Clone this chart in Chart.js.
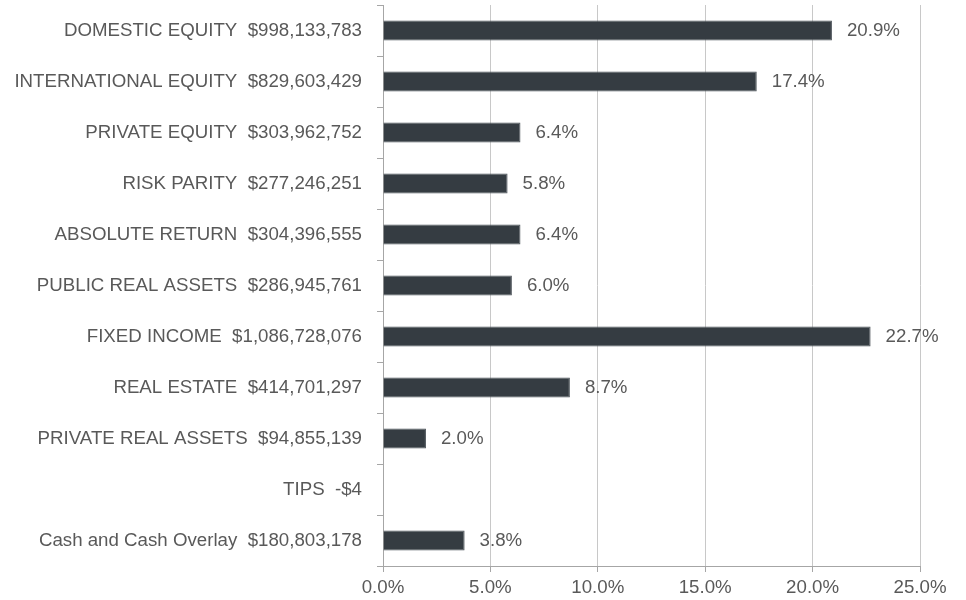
<!DOCTYPE html>
<html lang="en">
<head>
    <meta charset="UTF-8">
    <title>Asset allocation</title>
    <script src="https://cdn.jsdelivr.net/npm/chart.js"></script>
    <style>
        body {
            margin: 0;
            background: #fff;
        }
        #chart {
            display: block;
        }
    </style>
</head>
<body>

<canvas id="chart" width="966" height="600"></canvas>

<script>
    // Данные
    const categories = [
        'DOMESTIC EQUITY', 'INTERNATIONAL EQUITY', 'PRIVATE EQUITY', 'RISK PARITY',
        'ABSOLUTE RETURN', 'PUBLIC REAL ASSETS', 'FIXED INCOME', 'REAL ESTATE',
        'PRIVATE REAL ASSETS', 'TIPS', 'Cash and Cash Overlay'
    ];
    const amounts = [
        '$998,133,783', '$829,603,429', '$303,962,752', '$277,246,251',
        '$304,396,555', '$286,945,761', '$1,086,728,076', '$414,701,297',
        '$94,855,139', '-$4', '$180,803,178'
    ];
    const shares = [20.9, 17.4, 6.4, 5.8, 6.4, 6.0, 22.7, 8.7, 2.0, 0, 3.8];
    const shareLabels = ['20.9%', '17.4%', '6.4%', '5.8%', '6.4%', '6.0%', '22.7%', '8.7%', '2.0%', '', '3.8%'];
    const xTicks = [0, 5, 10, 15, 20, 25];

    const textColor = '#595959';
    const axisColor = '#a6a6a6';
    const font = { family: '"Liberation Sans", Arial, sans-serif', size: 18.7 };

    // Подписи значений справа от столбцов
    const barLabels = {
        id: 'barLabels',
        afterDatasetsDraw(chart) {
            const ctx = chart.ctx;
            const meta = chart.getDatasetMeta(0);
            ctx.save();
            ctx.font = font.size + 'px ' + font.family;
            ctx.fillStyle = textColor;
            ctx.textAlign = 'left';
            ctx.textBaseline = 'middle';
            meta.data.forEach((bar, i) => {
                if (!shareLabels[i]) return;
                ctx.fillText(shareLabels[i], bar.x + 15, bar.y);
            });
            ctx.restore();
        }
    };

    const labels = categories.map((c, i) => c + '  ' + amounts[i]);

    new Chart(document.getElementById('chart'), {
        type: 'bar',
        data: {
            labels: labels,
            datasets: [{
                data: shares,
                backgroundColor: '#353c42',
                borderColor: '#4a5157',
                borderWidth: 1,
                categoryPercentage: 1,
                barPercentage: 0.39
            }]
        },
        options: {
            indexAxis: 'y',
            responsive: false,
            animation: false,
            layout: {
                padding: { top: 5, right: 46, bottom: 0, left: 0 }
            },
            plugins: {
                legend: { display: false },
                tooltip: { enabled: false }
            },
            scales: {
                x: {
                    min: 0,
                    max: 25,
                    afterBuildTicks: (scale) => {
                        scale.ticks = xTicks.map(v => ({ value: v }));
                    },
                    afterFit: (scale) => {
                        scale.paddingLeft = 0;
                        scale.paddingRight = 0;
                        scale.height = 34;
                    },
                    grid: {
                        color: '#c8c8c8',
                        tickColor: axisColor,
                        tickLength: 6
                    },
                    border: { color: axisColor },
                    ticks: {
                        color: textColor,
                        font: font,
                        padding: 5,
                        callback: (v) => v.toFixed(1) + '%'
                    }
                },
                y: {
                    afterFit: (scale) => {
                        scale.width = 383;
                        scale.paddingTop = 0;
                        scale.paddingBottom = 0;
                    },
                    grid: {
                        drawOnChartArea: false,
                        offset: true,
                        color: axisColor,
                        tickLength: 6
                    },
                    border: { color: axisColor },
                    ticks: {
                        color: textColor,
                        font: font,
                        padding: 15,
                        autoSkip: false
                    }
                }
            }
        },
        plugins: [barLabels]
    });
</script>

</body>
</html>
